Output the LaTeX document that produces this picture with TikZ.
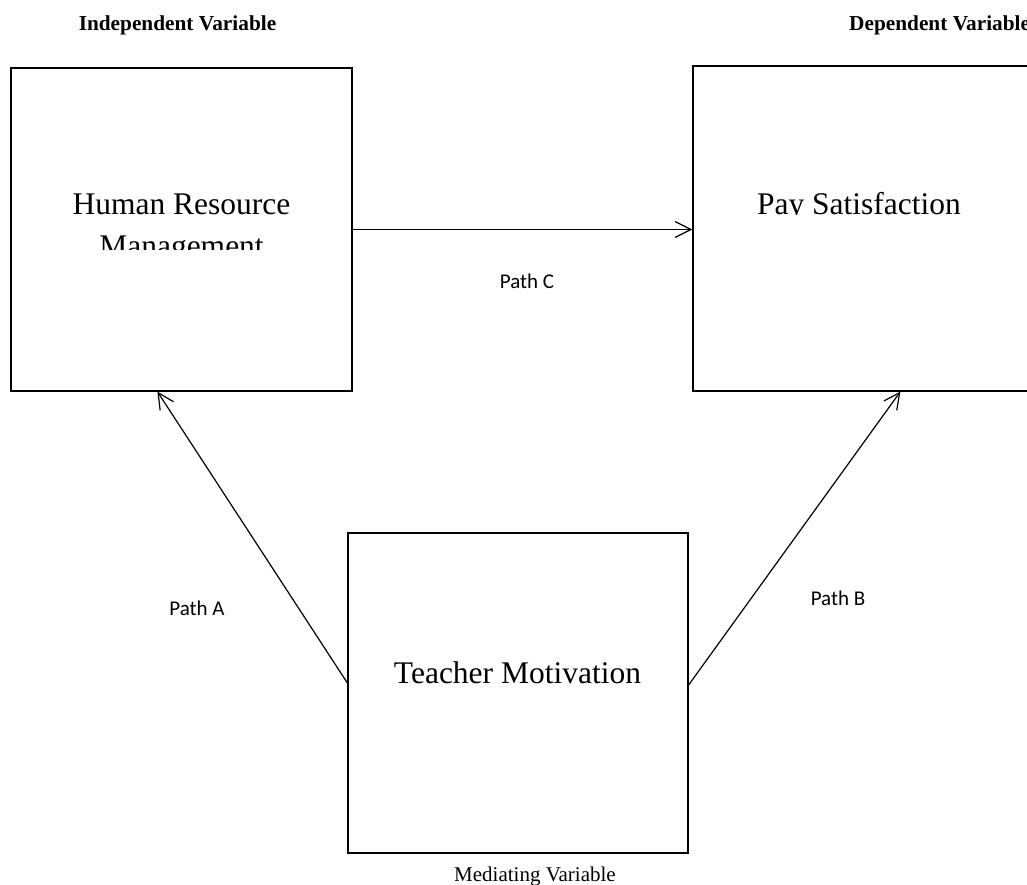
\documentclass[tikz,border=0pt]{standalone}
\usepackage{fontspec}
\setmainfont{Liberation Serif}
\newfontfamily\calib{Carlito}
\usetikzlibrary{arrows.meta,calc}
\begin{document}
\begin{tikzpicture}[x=1pt,y=-1pt,
  box/.style={draw,line width=1.2pt,inner sep=0pt,rectangle},
  conn/.style={line width=1.2pt,-{Straight Barb[length=16pt,width=16pt,line width=1.2pt]}},
  head/.style={font=\fontsize{21.3}{25}\selectfont\bfseries,inner sep=0pt},
  big/.style={font=\fontsize{31.5}{36}\selectfont,inner sep=0pt},
  small/.style={font=\fontsize{21}{25}\selectfont,inner sep=0pt},
  pathlbl/.style={font=\calib\fontsize{21}{25}\selectfont,inner sep=0pt}]
\useasboundingbox (0,0) rectangle (1027,884);
\clip (0,0) rectangle (1027,884);
% boxes
\node[box,minimum width=341pt,minimum height=323pt] (hrm) at (181.5,229.5) {};
\node[box,minimum width=347pt,minimum height=325pt] (pay) at (866.5,228.5) {};
\node[box,minimum width=340pt,minimum height=320pt] (tm) at (518,693) {};
% headings
\node[head,anchor=base] (iv) at (177.5,30) {Independent Variable};
\node[head,anchor=base west] (dv) at (849,30) {Dependent Variable};
\node[small,anchor=base] (mv) at (535,881) {Mediating Variable};
% box texts
\node[big,anchor=base] (hrmt) at (181.5,214.5) {Human Resource};
\begin{scope}
\clip (0,0) rectangle (1027,249);
\node[big,anchor=base] (hrmt2) at (181.5,256) {Management};
\end{scope}
\begin{scope}
\clip (0,0) rectangle (1027,214.5);
\node[big,anchor=base] (payt) at (859,214) {Pay Satisfaction};
\end{scope}
\node[big,anchor=base] (tmt) at (517.5,683) {Teacher Motivation};
% connectors
\draw[conn] (hrm.east) -- (hrm.east -| pay.west);
\draw[conn] ([yshift=10pt]tm.west) -- ([xshift=147pt]hrm.south west);
\draw[conn] ([yshift=8pt]tm.east) -- ([xshift=208pt]pay.south west);
% path labels
\node[pathlbl,anchor=base] (pc) at (527,288) {Path C};
\node[pathlbl,anchor=base] (pa) at (197,615) {Path A};
\node[pathlbl,anchor=base] (pb) at (838,605) {Path B};
\end{tikzpicture}
\end{document}
